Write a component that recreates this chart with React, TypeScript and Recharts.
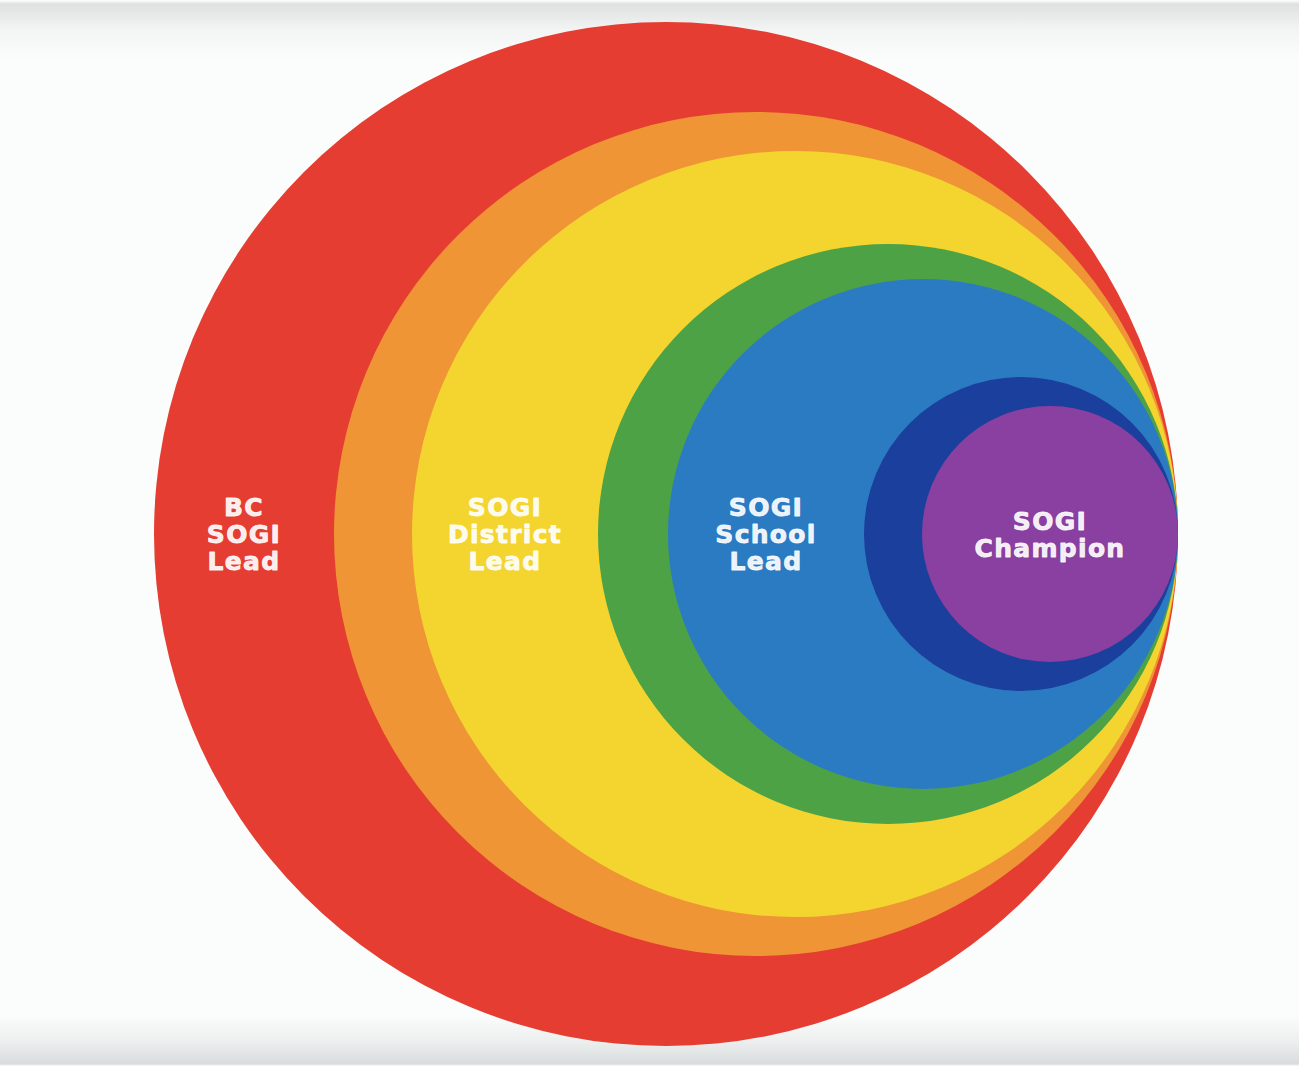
import React from 'react';
import { ScatterChart, Scatter, XAxis, YAxis, ZAxis } from 'recharts';

// nested SOGI roles, outermost first
const ringNames = [
  'BC SOGI Lead',
  'Orange ring',
  'SOGI District Lead',
  'Green ring',
  'SOGI School Lead',
  'Navy ring',
  'SOGI Champion',
];
const ringRadii = [512, 422, 383, 290, 255, 157, 128];
const ringColors = ['#e53d31', '#ef9536', '#f4d52f', '#4ea246', '#2b7bc3', '#1b3f9c', '#8a40a0'];
const ringLabels: (string[] | null)[] = [
  ['BC', 'SOGI', 'Lead'],
  null,
  ['SOGI', 'District', 'Lead'],
  null,
  ['SOGI', 'School', 'Lead'],
  null,
  ['SOGI', 'Champion'],
];

const W = 1299;
const H = 1068;
// every ring touches the same point on the right
const TOUCH_X = 1178;
const TOUCH_Y = 534;
const Z_MAX = Math.PI * 600 * 600;

const ringData = ringNames.map((name, i) => ({
  name,
  x: TOUCH_X - ringRadii[i],
  y: TOUCH_Y,
  area: Math.PI * ringRadii[i] * ringRadii[i],
  r: ringRadii[i],
  color: ringColors[i],
}));

// label sits in the middle of the visible band of its ring
const labelData = ringLabels
  .map((lines, i) => {
    if (!lines) return null;
    const left = TOUCH_X - 2 * ringRadii[i];
    const next = ringRadii[i + 1];
    const x = next === undefined ? TOUCH_X - ringRadii[i] : (left + TOUCH_X - 2 * next) / 2;
    return { name: ringNames[i], x, y: TOUCH_Y, lines, area: 0 };
  })
  .filter(Boolean) as { name: string; x: number; y: number; lines: string[]; area: number }[];

const RingShape = (props: any) => {
  const { cx, cy, width, payload } = props;
  const r = width > 0 ? width / 2 : payload.r;
  return <circle cx={cx} cy={cy} r={r} fill={payload.color} />;
};

const LabelShape = (props: any) => {
  const { cx, cy, payload } = props;
  const lines: string[] = payload.lines;
  const lh = 27;
  const top = cy - ((lines.length - 1) * lh) / 2;
  return (
    <text
      x={cx}
      textAnchor="middle"
      fill="#ffffff"
      fillOpacity={0.92}
      stroke="#ffffff"
      strokeOpacity={0.85}
      strokeWidth={0.9}
      strokeLinejoin="round"
      fontFamily="'DejaVu Sans', sans-serif"
      fontWeight="bold"
      fontSize={25}
      letterSpacing={1.3}
    >
      {lines.map((l, i) => (
        <tspan key={i} x={cx} y={top + i * lh} dy="0.36em">
          {l}
        </tspan>
      ))}
    </text>
  );
};

export default function App() {
  return (
    <div
      style={{
        width: W,
        height: H,
        background:
          'linear-gradient(to bottom, #ffffff 0px, #dfe1e1 4px, #f3f5f5 30px, #fbfdfd 60px, #fbfdfd 1015px, #eef0f0 1040px, #d9dcdc 1064px, #ffffff 1066px)',
      }}
    >
      <style>{'body { margin: 0; }'}</style>
      <ScatterChart width={W} height={H} margin={{ top: 0, right: 0, bottom: 0, left: 0 }}>
        <XAxis type="number" dataKey="x" domain={[0, W]} hide />
        <YAxis type="number" dataKey="y" domain={[0, H]} reversed hide />
        <ZAxis type="number" dataKey="area" domain={[0, Z_MAX]} range={[0, Z_MAX]} />
        <Scatter data={ringData} shape={RingShape} isAnimationActive={false} />
        <Scatter data={labelData} shape={LabelShape} isAnimationActive={false} />
      </ScatterChart>
    </div>
  );
}
